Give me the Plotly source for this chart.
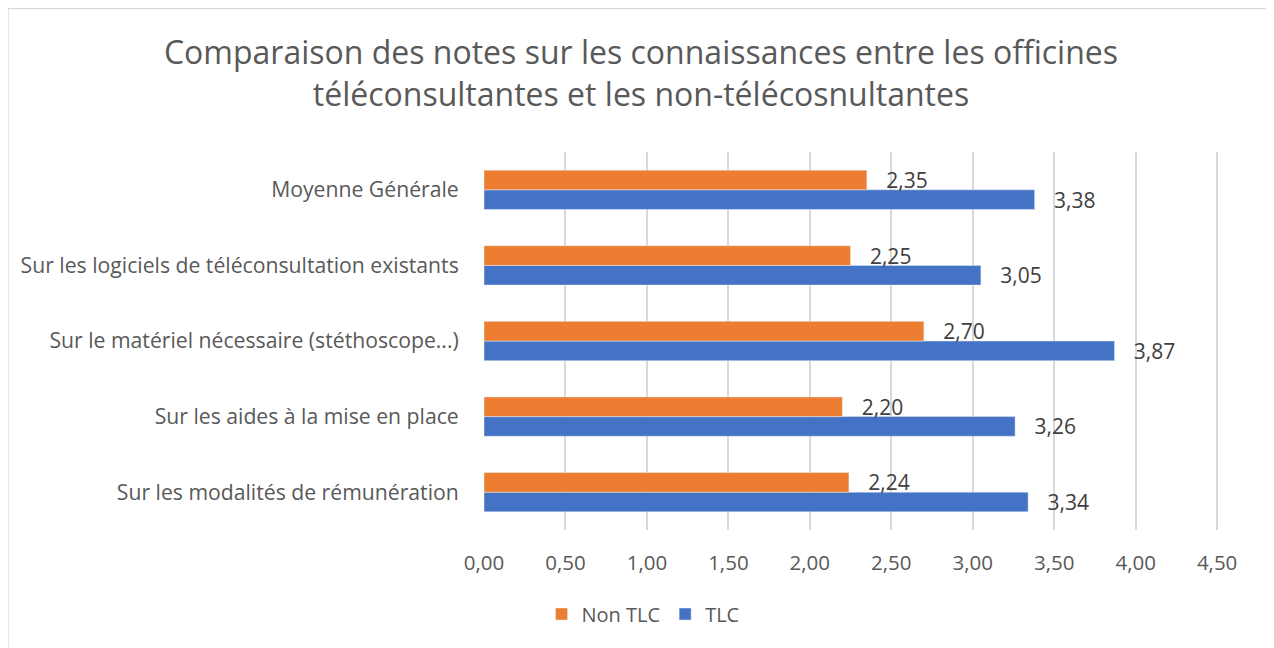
import plotly.graph_objects as go

categories = [
    "Sur les modalités de rémunération",
    "Sur les aides à la mise en place",
    "Sur le matériel nécessaire (stéthoscope...)",
    "Sur les logiciels de téléconsultation existants",
    "Moyenne Générale",
]
tlc = [3.34, 3.26, 3.87, 3.05, 3.38]
non_tlc = [2.24, 2.20, 2.70, 2.25, 2.35]
tick_vals = [0, 0.5, 1, 1.5, 2, 2.5, 3, 3.5, 4, 4.5]

FONT = "Open Sans, sans-serif"
TXT = "#595959"

# page body has an 8px margin: work in reference pixels minus 8
OFF = 8
W, H = 1274 - OFF, 648 - OFF
L, R, T, B = 484 - OFF, 1217 - OFF, 152 - OFF, 530 - OFF
XMAX = 4.53  # slightly past 4.5 so the last gridline is drawn
pw = (R - L) * XMAX / 4.5
ph = B - T

fig = go.Figure()
fig.add_trace(go.Bar(
    y=categories, x=tlc, name="TLC", orientation="h",
    marker=dict(color="#4472C4"),
    texttemplate="   %{x:.2f}", textposition="outside", constraintext="none",
    textfont=dict(size=21, color="#404040", family=FONT),
    cliponaxis=False, legendrank=2,
))
fig.add_trace(go.Bar(
    y=categories, x=non_tlc, name="Non TLC", orientation="h",
    marker=dict(color="#ED7D31"),
    texttemplate="   %{x:.2f}", textposition="outside", constraintext="none",
    textfont=dict(size=21, color="#404040", family=FONT),
    cliponaxis=False, legendrank=1,
))

fig.update_layout(
    width=W, height=H,
    margin=dict(l=L, r=W - L - pw, t=T, b=H - B),
    barmode="group", bargap=0.48, bargroupgap=0,
    separators=", ",
    plot_bgcolor="white", paper_bgcolor="white",
    font=dict(family=FONT, color=TXT),
    title=dict(
        text="Comparaison des notes sur les connaissances entre les officines<br>téléconsultantes et les non-télécosnultantes",
        x=0.5, xanchor="center", xref="container",
        y=1 - (64 - OFF) / H, yanchor="middle", yref="container",
        font=dict(size=32, color=TXT, family=FONT),
    ),
    xaxis=dict(
        range=[0, XMAX], tickvals=tick_vals, tickformat=".2f",
        showgrid=True, gridcolor="#D9D9D9", gridwidth=1.5,
        zeroline=False, showline=False,
        tickfont=dict(size=20.5, color=TXT, family=FONT),
        ticks="", ticklabelstandoff=18,
    ),
    yaxis=dict(
        showgrid=False, zeroline=False, showline=False,
        tickfont=dict(size=21.2, color=TXT, family=FONT),
        ticks="outside", ticklen=20, tickcolor="rgba(0,0,0,0)",
    ),
    legend=dict(
        orientation="h", x=(643 - 484) / pw, xanchor="center",
        y=-(614 - 530) / ph, yanchor="middle",
        font=dict(size=20, color=TXT, family=FONT),
        itemwidth=30,
    ),
    shapes=[dict(
        type="rect", xref="paper", yref="paper",
        x0=(0 - L) / pw, x1=(1268 - OFF - L) / pw,
        y0=(B - (H + 20)) / ph, y1=(B - 0.5) / ph,
        line=dict(color="#D9D9D9", width=1.5), fillcolor="rgba(0,0,0,0)",
        layer="below",
    )],
)

fig.write_html("out.html")
